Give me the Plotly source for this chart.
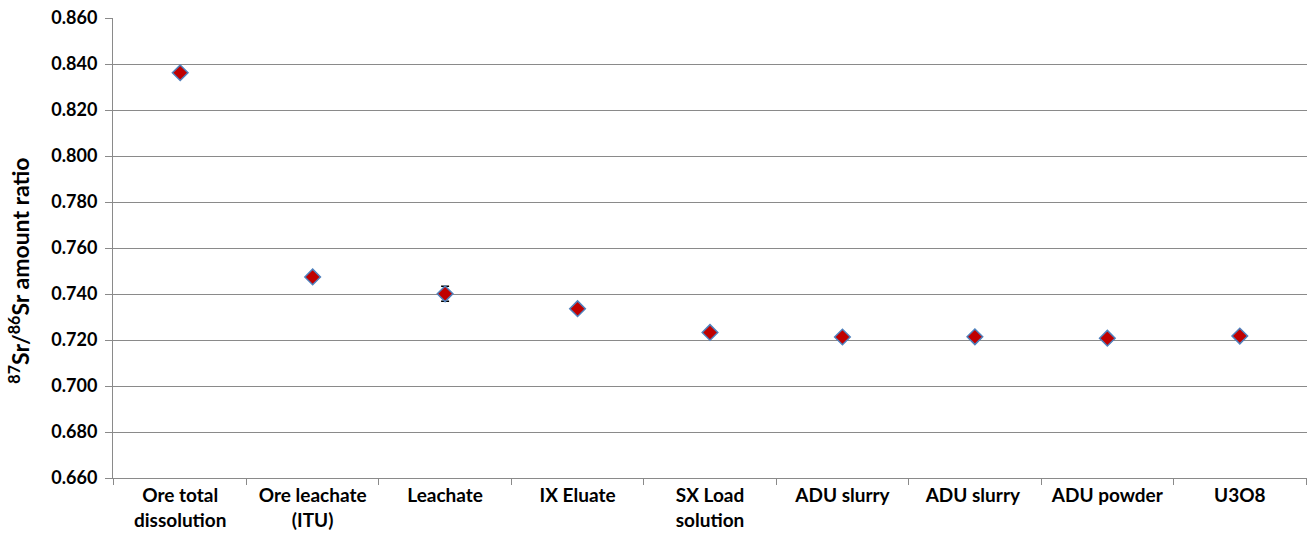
import plotly.graph_objects as go

categories = ["Ore total<br>dissolution", "Ore leachate<br>(ITU)", "Leachate", "IX Eluate",
              "SX Load<br>solution", "ADU slurry", "ADU slurry ", "ADU powder", "U3O8"]
ratios = [0.8362, 0.7474, 0.7401, 0.7336, 0.7233, 0.7213, 0.7214, 0.7208, 0.7217]
errors = [0, 0, 0.0033, 0, 0, 0, 0, 0, 0]
y_ticks = [0.660, 0.680, 0.700, 0.720, 0.740, 0.760, 0.780, 0.800, 0.820, 0.840, 0.860]
y_title = "<b><sup>87</sup>Sr/<sup>86</sup>Sr amount ratio</b>"

FONT = "Lato"
GRID = "#8a8a8a"

fig = go.Figure()
fig.add_trace(go.Scatter(
    x=categories, y=ratios, mode="markers",
    marker=dict(symbol="diamond", size=12, color="#C00000",
                line=dict(color="#4F81BD", width=1.5)),
    error_y=dict(type="data", array=errors, visible=True, color="black",
                 thickness=1.5, width=4),
    showlegend=False, hoverinfo="skip",
))

fig.update_layout(
    width=1310, height=541,
    margin=dict(l=113, r=3, t=18, b=63),
    plot_bgcolor="white", paper_bgcolor="white",
    font=dict(family=FONT, size=18, color="black"),
)
fig.update_xaxes(
    type="category", categoryorder="array", categoryarray=categories,
    tickson="boundaries", ticks="outside", ticklen=6, tickcolor=GRID,
    showline=True, linecolor=GRID, linewidth=1, showgrid=False,
    automargin=False,
    tickfont=dict(family=FONT, size=19, color="black", weight="bold"),
)
fig.update_yaxes(
    range=[0.660, 0.860], tickvals=y_ticks, tickformat=".3f",
    ticks="outside", ticklen=7, tickcolor=GRID, ticklabelstandoff=4,
    showline=True, linecolor=GRID, linewidth=1,
    showgrid=True, gridcolor=GRID, gridwidth=1, zeroline=False,
    automargin=False,
    tickfont=dict(family=FONT, size=18, color="black", weight="bold"),
)
fig.add_annotation(
    text=y_title, textangle=-90, showarrow=False,
    xref="paper", yref="paper", x=-0.079, y=0.45,
    xanchor="center", yanchor="middle",
    font=dict(family=FONT, size=23, color="black"),
)

fig.write_html("out.html", config={"displayModeBar": False},
               post_script="document.body.style.margin='0';")
